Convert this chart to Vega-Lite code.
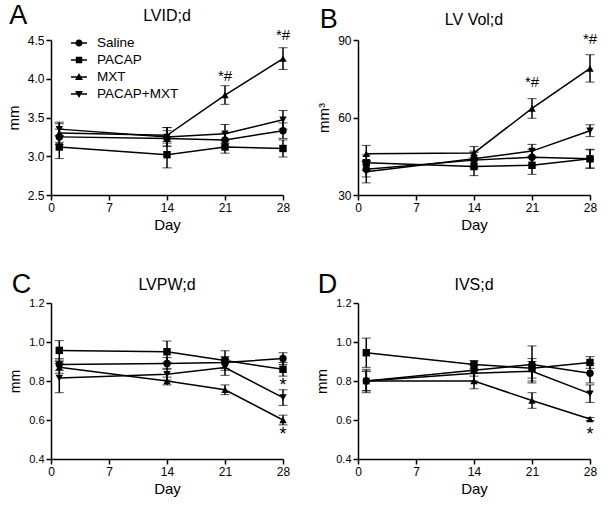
{
  "$schema": "https://vega.github.io/schema/vega-lite/v6.json",
  "padding": {"left": 6, "top": 2, "right": 5, "bottom": 5},
  "columns": 2,
  "spacing": {"row": 39, "column": 23},
  "resolve": {"scale": {"shape": "independent"}, "legend": {"shape": "independent"}},
  "datasets": {
    "d": [
      {"panel": "A", "group": "Saline", "day": 1, "mean": 3.25, "sem": 0.10},
      {"panel": "A", "group": "Saline", "day": 14, "mean": 3.23, "sem": 0.10},
      {"panel": "A", "group": "Saline", "day": 21, "mean": 3.21, "sem": 0.09},
      {"panel": "A", "group": "Saline", "day": 28, "mean": 3.33, "sem": 0.10},
      {"panel": "A", "group": "PACAP", "day": 1, "mean": 3.12, "sem": 0.15},
      {"panel": "A", "group": "PACAP", "day": 14, "mean": 3.02, "sem": 0.17},
      {"panel": "A", "group": "PACAP", "day": 21, "mean": 3.12, "sem": 0.08},
      {"panel": "A", "group": "PACAP", "day": 28, "mean": 3.10, "sem": 0.11},
      {"panel": "A", "group": "MXT", "day": 1, "mean": 3.30, "sem": 0.12},
      {"panel": "A", "group": "MXT", "day": 14, "mean": 3.27, "sem": 0.10},
      {"panel": "A", "group": "MXT", "day": 21, "mean": 3.79, "sem": 0.12},
      {"panel": "A", "group": "MXT", "day": 28, "mean": 4.26, "sem": 0.14},
      {"panel": "A", "group": "PACAP+MXT", "day": 1, "mean": 3.35, "sem": 0.09},
      {"panel": "A", "group": "PACAP+MXT", "day": 14, "mean": 3.25, "sem": 0.12},
      {"panel": "A", "group": "PACAP+MXT", "day": 21, "mean": 3.29, "sem": 0.12},
      {"panel": "A", "group": "PACAP+MXT", "day": 28, "mean": 3.47, "sem": 0.12},
      {"panel": "B", "group": "Saline", "day": 1, "mean": 40.0, "sem": 3.0},
      {"panel": "B", "group": "Saline", "day": 14, "mean": 43.5, "sem": 3.0},
      {"panel": "B", "group": "Saline", "day": 21, "mean": 44.6, "sem": 3.0},
      {"panel": "B", "group": "Saline", "day": 28, "mean": 44.0, "sem": 3.5},
      {"panel": "B", "group": "PACAP", "day": 1, "mean": 42.5, "sem": 3.0},
      {"panel": "B", "group": "PACAP", "day": 14, "mean": 41.0, "sem": 3.5},
      {"panel": "B", "group": "PACAP", "day": 21, "mean": 41.5, "sem": 3.5},
      {"panel": "B", "group": "PACAP", "day": 28, "mean": 44.0, "sem": 3.7},
      {"panel": "B", "group": "MXT", "day": 1, "mean": 46.0, "sem": 3.2},
      {"panel": "B", "group": "MXT", "day": 14, "mean": 46.3, "sem": 2.5},
      {"panel": "B", "group": "MXT", "day": 21, "mean": 63.5, "sem": 3.8},
      {"panel": "B", "group": "MXT", "day": 28, "mean": 79.0, "sem": 5.3},
      {"panel": "B", "group": "PACAP+MXT", "day": 1, "mean": 39.0, "sem": 4.3},
      {"panel": "B", "group": "PACAP+MXT", "day": 14, "mean": 44.0, "sem": 3.0},
      {"panel": "B", "group": "PACAP+MXT", "day": 21, "mean": 47.0, "sem": 2.6},
      {"panel": "B", "group": "PACAP+MXT", "day": 28, "mean": 54.9, "sem": 2.3},
      {"panel": "C", "group": "Saline", "day": 1, "mean": 0.885, "sem": 0.03},
      {"panel": "C", "group": "Saline", "day": 14, "mean": 0.89, "sem": 0.03},
      {"panel": "C", "group": "Saline", "day": 21, "mean": 0.895, "sem": 0.03},
      {"panel": "C", "group": "Saline", "day": 28, "mean": 0.915, "sem": 0.03},
      {"panel": "C", "group": "PACAP", "day": 1, "mean": 0.957, "sem": 0.05},
      {"panel": "C", "group": "PACAP", "day": 14, "mean": 0.95, "sem": 0.055},
      {"panel": "C", "group": "PACAP", "day": 21, "mean": 0.905, "sem": 0.05},
      {"panel": "C", "group": "PACAP", "day": 28, "mean": 0.86, "sem": 0.035},
      {"panel": "C", "group": "MXT", "day": 1, "mean": 0.87, "sem": 0.03},
      {"panel": "C", "group": "MXT", "day": 14, "mean": 0.80, "sem": 0.02},
      {"panel": "C", "group": "MXT", "day": 21, "mean": 0.755, "sem": 0.025},
      {"panel": "C", "group": "MXT", "day": 28, "mean": 0.60, "sem": 0.025},
      {"panel": "C", "group": "PACAP+MXT", "day": 1, "mean": 0.815, "sem": 0.075},
      {"panel": "C", "group": "PACAP+MXT", "day": 14, "mean": 0.835, "sem": 0.03},
      {"panel": "C", "group": "PACAP+MXT", "day": 21, "mean": 0.869, "sem": 0.04},
      {"panel": "C", "group": "PACAP+MXT", "day": 28, "mean": 0.715, "sem": 0.04},
      {"panel": "D", "group": "Saline", "day": 1, "mean": 0.80, "sem": 0.05},
      {"panel": "D", "group": "Saline", "day": 14, "mean": 0.855, "sem": 0.03},
      {"panel": "D", "group": "Saline", "day": 21, "mean": 0.885, "sem": 0.095},
      {"panel": "D", "group": "Saline", "day": 28, "mean": 0.84, "sem": 0.05},
      {"panel": "D", "group": "PACAP", "day": 1, "mean": 0.945, "sem": 0.075},
      {"panel": "D", "group": "PACAP", "day": 14, "mean": 0.885, "sem": 0.02},
      {"panel": "D", "group": "PACAP", "day": 21, "mean": 0.865, "sem": 0.05},
      {"panel": "D", "group": "PACAP", "day": 28, "mean": 0.895, "sem": 0.03},
      {"panel": "D", "group": "MXT", "day": 1, "mean": 0.80, "sem": 0.05},
      {"panel": "D", "group": "MXT", "day": 14, "mean": 0.80, "sem": 0.04},
      {"panel": "D", "group": "MXT", "day": 21, "mean": 0.70, "sem": 0.04},
      {"panel": "D", "group": "MXT", "day": 28, "mean": 0.605, "sem": 0.008},
      {"panel": "D", "group": "PACAP+MXT", "day": 1, "mean": 0.80, "sem": 0.06},
      {"panel": "D", "group": "PACAP+MXT", "day": 14, "mean": 0.84, "sem": 0.04},
      {"panel": "D", "group": "PACAP+MXT", "day": 21, "mean": 0.85, "sem": 0.05},
      {"panel": "D", "group": "PACAP+MXT", "day": 28, "mean": 0.735, "sem": 0.045}
    ],
    "ann": [
      {"panel": "A", "day": 21, "mean": 4.04, "label": "*#"},
      {"panel": "A", "day": 28, "mean": 4.56, "label": "*#"},
      {"panel": "B", "day": 21, "mean": 73.6, "label": "*#"},
      {"panel": "B", "day": 28, "mean": 90.5, "label": "*#"},
      {"panel": "C", "day": 28, "mean": 0.775, "label": "*"},
      {"panel": "C", "day": 28, "mean": 0.525, "label": "*"},
      {"panel": "D", "day": 28, "mean": 0.525, "label": "*"}
    ]
  },
  "concat": [
    {
      "title": {"text": "A", "anchor": "start", "fontSize": 27, "fontWeight": "normal", "offset": -22, "dx": 3},
      "resolve": {"scale": {"shape": "independent"}, "legend": {"shape": "independent"}},
      "vconcat": [{
        "width": 232, "height": 155,
        "title": {"text": "LVID;d", "fontSize": 16, "fontWeight": "normal"},
        "resolve": {"scale": {"shape": "independent"}, "legend": {"shape": "independent"}},
        "encoding": {
          "x": {"field": "day", "type": "quantitative", "title": "Day", "scale": {"domain": [0, 28], "nice": false}, "axis": {"values": [0, 7, 14, 21, 28]}},
          "y": {"field": "mean", "type": "quantitative", "title": "mm", "scale": {"domain": [2.5, 4.5], "nice": false, "zero": false}, "axis": {"values": [2.5, 3, 3.5, 4, 4.5], "format": ".1f"}}
        },
        "layer": [
          {"data": {"name": "d"}, "transform": [{"filter": "datum.panel == 'A'"}],
           "mark": {"type": "line", "color": "black", "strokeWidth": 1.5},
           "encoding": {"detail": {"field": "group"}}},
          {"data": {"name": "d"}, "transform": [{"filter": "datum.panel == 'A'"}],
           "mark": {"type": "errorbar", "ticks": {"size": 9, "color": "black", "strokeWidth": 1.5}, "rule": {"color": "black", "strokeWidth": 1.5}},
           "encoding": {"yError": {"field": "sem"}}},
          {"data": {"name": "d"}, "transform": [{"filter": "datum.panel == 'A'"}],
           "mark": {"type": "point", "filled": true, "color": "black", "size": 55, "opacity": 1},
           "encoding": {"shape": {"field": "group", "type": "nominal", "legend": null,
               "scale": {"domain": ["Saline", "PACAP", "MXT", "PACAP+MXT"], "range": ["circle", "square", "triangle-up", "triangle-down"]}}}},
          {"data": {"name": "d"}, "transform": [{"filter": "datum.panel == 'A'"}],
           "mark": {"type": "point", "filled": true, "color": "black", "size": 0, "opacity": 1},
           "encoding": {"shape": {"field": "group", "type": "nominal",
               "scale": {"domain": ["Saline", "PACAP", "MXT", "PACAP+MXT"],
                 "range": ["M-1,-0.1H1V0.1H-1ZM0.45,0A0.45,0.45,0,1,1,-0.45,0A0.45,0.45,0,1,1,0.45,0Z",
                           "M-1,-0.1H1V0.1H-1ZM-0.4,-0.4H0.4V0.4H-0.4Z",
                           "M-1,-0.1H1V0.1H-1ZM0,-0.5L0.5,0.36L-0.5,0.36Z",
                           "M-1,-0.1H1V0.1H-1ZM0,0.5L-0.5,-0.36L0.5,-0.36Z"]},
               "legend": {"title": null, "orient": "none", "legendX": 20, "legendY": -5, "padding": 0,
                 "symbolSize": 256, "symbolFillColor": "black", "symbolStrokeWidth": 0, "symbolOpacity": 1,
                 "labelFontSize": 13.5, "labelColor": "black", "labelOffset": 10, "rowPadding": 2}}}},
          {"data": {"name": "ann"}, "transform": [{"filter": "datum.panel == 'A'"}],
           "mark": {"type": "text", "fontSize": 15, "color": "black", "baseline": "middle"},
           "encoding": {"text": {"field": "label"}}}
        ]
      }]
    },
    {
      "title": {"text": "B", "anchor": "start", "fontSize": 27, "fontWeight": "normal", "offset": -22, "dx": 3},
      "resolve": {"scale": {"shape": "independent"}, "legend": {"shape": "independent"}},
      "vconcat": [{
        "width": 232, "height": 155,
        "title": {"text": "LV Vol;d", "fontSize": 16, "fontWeight": "normal"},
        "encoding": {
          "x": {"field": "day", "type": "quantitative", "title": "Day", "scale": {"domain": [0, 28], "nice": false}, "axis": {"values": [0, 7, 14, 21, 28]}},
          "y": {"field": "mean", "type": "quantitative", "title": "mm³", "scale": {"domain": [30, 90], "nice": false, "zero": false}, "axis": {"values": [30, 60, 90]}}
        },
        "layer": [
          {"data": {"name": "d"}, "transform": [{"filter": "datum.panel == 'B'"}],
           "mark": {"type": "line", "color": "black", "strokeWidth": 1.5},
           "encoding": {"detail": {"field": "group"}}},
          {"data": {"name": "d"}, "transform": [{"filter": "datum.panel == 'B'"}],
           "mark": {"type": "errorbar", "ticks": {"size": 9, "color": "black", "strokeWidth": 1.5}, "rule": {"color": "black", "strokeWidth": 1.5}},
           "encoding": {"yError": {"field": "sem"}}},
          {"data": {"name": "d"}, "transform": [{"filter": "datum.panel == 'B'"}],
           "mark": {"type": "point", "filled": true, "color": "black", "size": 55, "opacity": 1},
           "encoding": {"shape": {"field": "group", "type": "nominal", "legend": null,
               "scale": {"domain": ["Saline", "PACAP", "MXT", "PACAP+MXT"], "range": ["circle", "square", "triangle-up", "triangle-down"]}}}},
          {"data": {"name": "ann"}, "transform": [{"filter": "datum.panel == 'B'"}],
           "mark": {"type": "text", "fontSize": 15, "color": "black", "baseline": "middle"},
           "encoding": {"text": {"field": "label"}}}
        ]
      }]
    },
    {
      "title": {"text": "C", "anchor": "start", "fontSize": 27, "fontWeight": "normal", "offset": -22, "dx": 3},
      "resolve": {"scale": {"shape": "independent"}, "legend": {"shape": "independent"}},
      "vconcat": [{
        "width": 232, "height": 156,
        "title": {"text": "LVPW;d", "fontSize": 16, "fontWeight": "normal"},
        "encoding": {
          "x": {"field": "day", "type": "quantitative", "title": "Day", "scale": {"domain": [0, 28], "nice": false}, "axis": {"values": [0, 7, 14, 21, 28]}},
          "y": {"field": "mean", "type": "quantitative", "title": "mm", "scale": {"domain": [0.4, 1.2], "nice": false, "zero": false}, "axis": {"values": [0.4, 0.6, 0.8, 1.0, 1.2], "format": ".1f", "labelFontSize": 11, "titleFontSize": 14}}
        },
        "layer": [
          {"data": {"name": "d"}, "transform": [{"filter": "datum.panel == 'C'"}],
           "mark": {"type": "line", "color": "black", "strokeWidth": 1.5},
           "encoding": {"detail": {"field": "group"}}},
          {"data": {"name": "d"}, "transform": [{"filter": "datum.panel == 'C'"}],
           "mark": {"type": "errorbar", "ticks": {"size": 9, "color": "black", "strokeWidth": 1.5}, "rule": {"color": "black", "strokeWidth": 1.5}},
           "encoding": {"yError": {"field": "sem"}}},
          {"data": {"name": "d"}, "transform": [{"filter": "datum.panel == 'C'"}],
           "mark": {"type": "point", "filled": true, "color": "black", "size": 55, "opacity": 1},
           "encoding": {"shape": {"field": "group", "type": "nominal", "legend": null,
               "scale": {"domain": ["Saline", "PACAP", "MXT", "PACAP+MXT"], "range": ["circle", "square", "triangle-up", "triangle-down"]}}}},
          {"data": {"name": "ann"}, "transform": [{"filter": "datum.panel == 'C'"}],
           "mark": {"type": "text", "fontSize": 18, "color": "black", "baseline": "middle"},
           "encoding": {"text": {"field": "label"}}}
        ]
      }]
    },
    {
      "title": {"text": "D", "anchor": "start", "fontSize": 27, "fontWeight": "normal", "offset": -22, "dx": 3},
      "resolve": {"scale": {"shape": "independent"}, "legend": {"shape": "independent"}},
      "vconcat": [{
        "width": 232, "height": 156,
        "title": {"text": "IVS;d", "fontSize": 16, "fontWeight": "normal"},
        "encoding": {
          "x": {"field": "day", "type": "quantitative", "title": "Day", "scale": {"domain": [0, 28], "nice": false}, "axis": {"values": [0, 7, 14, 21, 28]}},
          "y": {"field": "mean", "type": "quantitative", "title": "mm", "scale": {"domain": [0.4, 1.2], "nice": false, "zero": false}, "axis": {"values": [0.4, 0.6, 0.8, 1.0, 1.2], "format": ".1f", "labelFontSize": 11}}
        },
        "layer": [
          {"data": {"name": "d"}, "transform": [{"filter": "datum.panel == 'D'"}],
           "mark": {"type": "line", "color": "black", "strokeWidth": 1.5},
           "encoding": {"detail": {"field": "group"}}},
          {"data": {"name": "d"}, "transform": [{"filter": "datum.panel == 'D'"}],
           "mark": {"type": "errorbar", "ticks": {"size": 9, "color": "black", "strokeWidth": 1.5}, "rule": {"color": "black", "strokeWidth": 1.5}},
           "encoding": {"yError": {"field": "sem"}}},
          {"data": {"name": "d"}, "transform": [{"filter": "datum.panel == 'D'"}],
           "mark": {"type": "point", "filled": true, "color": "black", "size": 55, "opacity": 1},
           "encoding": {"shape": {"field": "group", "type": "nominal", "legend": null,
               "scale": {"domain": ["Saline", "PACAP", "MXT", "PACAP+MXT"], "range": ["circle", "square", "triangle-up", "triangle-down"]}}}},
          {"data": {"name": "ann"}, "transform": [{"filter": "datum.panel == 'D'"}],
           "mark": {"type": "text", "fontSize": 18, "color": "black", "baseline": "middle"},
           "encoding": {"text": {"field": "label"}}}
        ]
      }]
    }
  ],
  "config": {
    "font": "Liberation Sans",
    "view": {"stroke": null},
    "title": {"color": "black", "font": "Liberation Sans"},
    "axis": {"grid": false, "domainColor": "black", "domainWidth": 1.5, "tickColor": "black", "tickWidth": 1.5, "tickSize": 5,
      "labelColor": "black", "labelFontSize": 12, "labelFont": "Liberation Sans", "labelPadding": 2, "labelOverlap": false,
      "titleColor": "black", "titleFontSize": 15, "titleFontWeight": "normal", "titleFont": "Liberation Sans"},
    "axisY": {"titlePadding": 6},
    "axisX": {"titlePadding": 4, "labelFlush": false},
    "legend": {"labelFont": "Liberation Sans"}
  }
}
